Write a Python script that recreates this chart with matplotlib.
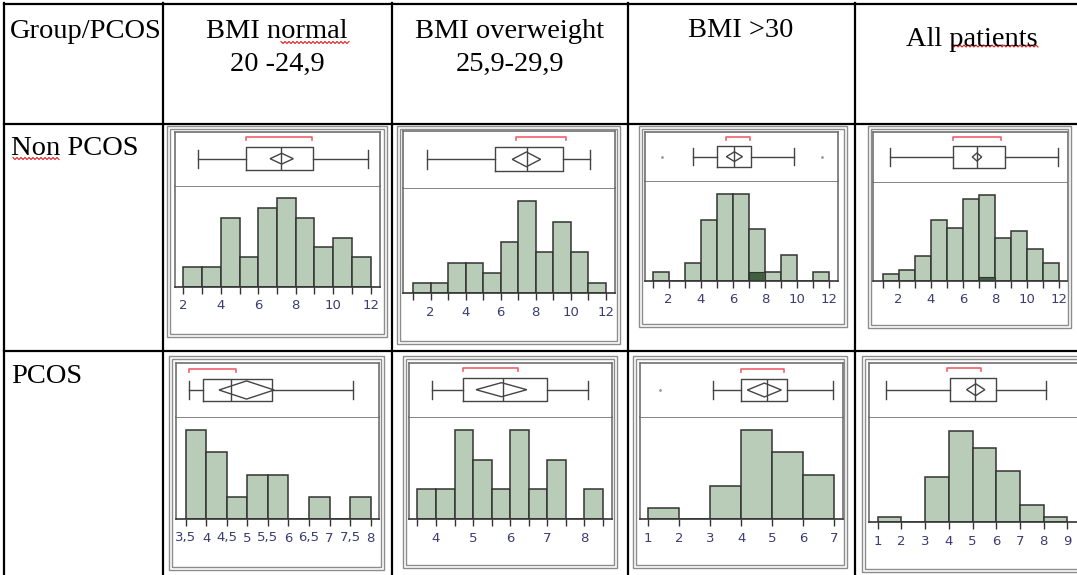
import numpy as np
import matplotlib
matplotlib.use("Agg")
import matplotlib.pyplot as plt
from matplotlib.patches import Rectangle, Polygon
from matplotlib.lines import Line2D

# ---- values ----
col_titles = [["BMI normal", "20 -24,9"], ["BMI overweight", "25,9-29,9"], ["BMI >30"], ["All patients"]]
row_titles = ["Non PCOS", "PCOS"]

# Non PCOS histograms (bin edges, counts)
np_normal_edges = [2, 3, 4, 5, 6, 7, 8, 9, 10, 11, 12]
np_normal_counts = [2, 2, 7, 3, 8, 9, 7, 4, 5, 3]
np_over_edges = [1, 2, 3, 4, 5, 6, 7, 8, 9, 10, 11, 12]
np_over_counts = [1, 1, 3, 3, 2, 5, 9, 4, 7, 4, 1]
np_obese_edges = [1, 2, 3, 4, 5, 6, 7, 8, 9, 10, 11, 12]
np_obese_counts = [1, 0, 2, 7, 10, 10, 6, 1, 3, 0, 1]
np_all_edges = [1, 2, 3, 4, 5, 6, 7, 8, 9, 10, 11, 12]
np_all_counts = [2, 3, 7, 17, 15, 23, 24, 12, 14, 9, 5]
# selected (dark) row
np_sel_bin = [7, 8]
np_sel_count = [1]

# PCOS histograms
p_normal_edges = [3.5, 4, 4.5, 5, 5.5, 6, 6.5, 7, 7.5, 8]
p_normal_counts = [4, 3, 1, 2, 2, 0, 1, 0, 1]
p_over_edges = [3.5, 4, 4.5, 5, 5.5, 6, 6.5, 7, 7.5, 8, 8.5]
p_over_counts = [1, 1, 3, 2, 1, 3, 1, 2, 0, 1]
p_obese_edges = [1, 2, 3, 4, 5, 6, 7]
p_obese_counts = [1, 0, 3, 8, 6, 4]
p_all_edges = [1, 2, 3, 4, 5, 6, 7, 8, 9]
p_all_counts = [1, 0, 8, 16, 13, 9, 3, 1]

# box plots: [whisker lo, q1, median, q3, whisker hi]
np_normal_box = [2.8, 5.35, 7.2, 8.92, 11.84]
np_over_box = [1.8, 5.65, 7.52, 9.54, 11.1]
np_obese_box = [3.54, 5.03, 6.07, 7.13, 9.84]
np_all_box = [1.45, 5.35, 6.9, 8.59, 11.94]
p_normal_box = [3.58, 3.93, 4.61, 5.59, 7.57]
p_over_box = [3.9, 4.74, 5.82, 6.99, 8.1]
p_obese_box = [3.08, 3.98, 4.84, 5.48, 6.96]
p_all_box = [1.35, 4.07, 5.1, 5.99, 8.1]

# means diamond (CI lo, CI hi)
np_normal_diam = [6.63, 7.87]
np_over_diam = [6.66, 8.28]
np_obese_diam = [5.6, 6.6]
np_all_diam = [6.58, 7.17]
p_normal_diam = [4.31, 5.65]
p_over_diam = [5.08, 6.45]
p_obese_diam = [4.2, 5.3]
p_all_diam = [4.75, 5.52]

# shortest half bracket
np_normal_short = [5.35, 8.85]
np_over_short = [6.86, 9.74]
np_obese_short = [5.56, 7.1]
np_all_short = [5.35, 8.4]
p_normal_short = [3.58, 4.73]
p_over_short = [4.74, 6.22]
p_obese_short = [3.98, 5.39]
p_all_short = [3.93, 5.34]

# outliers
np_obese_out = [1.6, 11.55]
p_obese_out = [1.38]

# tick labels
even_ticks = [2, 4, 6, 8, 10, 12]
even_labels = ["2", "4", "6", "8", "10", "12"]
p_normal_labels = ["3,5", "4", "4,5", "5", "5,5", "6", "6,5", "7", "7,5", "8"]
p_over_ticks = [4, 5, 6, 7, 8]
p_obese_labels = ["1", "2", "3", "4", "5", "6", "7"]
p_all_labels = ["1", "2", "3", "4", "5", "6", "7", "8", "9"]

# ---- style ----
W, H = 1077, 575
BAR = "#b9ccb7"
EDGE = "#333333"
SEL = "#3f6140"
BOXC = "#444444"
FRAME = "#707070"
RED = "#f0606c"
TICKC = "#3a3c72"
SERIF = "Liberation Serif"

fig = plt.figure(figsize=(W / 100, H / 100), dpi=100)


def fig_rect(l, t, r, b):
    return [l / W, 1 - b / H, (r - l) / W, (b - t) / H]


def draw_panel(outer, frame, ref, ymax, dh, edges, counts, box, diam, short, out,
               ticks, labels, sel=None):
    ol, ot, orr, ob = outer
    for d in (0, 3):
        fig.add_artist(Rectangle(((ol + d) / W, 1 - (ob - d) / H),
                                 (orr - ol - 2 * d) / W, (ob - ot - 2 * d) / H,
                                 transform=fig.transFigure, fill=False,
                                 ec="#8c8c8c", lw=1.0))
    l, t, sep, base, r = frame
    (v1, p1), (v2, p2) = ref
    k = (v2 - v1) / (p2 - p1)
    xlim = (v1 + (l - p1) * k, v1 + (r - p1) * k)

    # histogram
    axh = fig.add_axes(fig_rect(l, sep, r, base))
    axh.bar(edges[:-1], counts, width=np.diff(edges), align="edge",
            color=BAR, edgecolor=EDGE, lw=1.1)
    if sel is not None:
        axh.bar(sel[0][0], sel[1], width=sel[0][1] - sel[0][0], align="edge",
                color=SEL, edgecolor=EDGE, lw=0.8)
    axh.set_xlim(xlim)
    axh.set_ylim(0, ymax)
    axh.set_yticks([])
    axh.set_xticks(ticks)
    axh.set_xticklabels(labels)
    axh.set_xticks(edges, minor=True)
    axh.tick_params(axis="x", which="both", length=5, width=1, color="#333333",
                    direction="out")
    axh.tick_params(axis="x", labelsize=9.5, labelcolor=TICKC, pad=4)
    for sp in axh.spines.values():
        sp.set_color(FRAME)
        sp.set_linewidth(1.2)
    axh.spines["bottom"].set_color("#333333")
    axh.patch.set_alpha(0)

    # box plot
    axb = fig.add_axes(fig_rect(l, t, r, sep))
    stats = [dict(whislo=box[0], q1=box[1], med=box[2], q3=box[3],
                  whishi=box[4], fliers=out)]
    lp = dict(color=BOXC, lw=1.0)
    axb.bxp(stats, positions=[0.5], widths=0.42, orientation="horizontal",
            capwidths=0.34, boxprops=lp, whiskerprops=lp, capprops=lp,
            medianprops=lp, manage_ticks=False,
            flierprops=dict(marker=".", ms=2, mfc="#999999", mec="#999999"))
    mean = (diam[0] + diam[1]) / 2
    axb.add_patch(Polygon([(diam[0], 0.5), (mean, 0.5 + dh), (diam[1], 0.5), (mean, 0.5 - dh)],
                          closed=True, fill=False, ec=BOXC, lw=1.0))
    axb.plot([short[0], short[0], short[1], short[1]], [0.84, 0.9, 0.9, 0.84],
             color=RED, lw=1.2)
    axb.set_xlim(xlim)
    axb.set_ylim(0, 1)
    axb.set_xticks([])
    axb.set_yticks([])
    for sp in axb.spines.values():
        sp.set_color(FRAME)
        sp.set_linewidth(1.2)
    axb.spines["bottom"].set_visible(False)


# Non PCOS row
draw_panel((167, 126, 387, 337), (174.7, 131.7, 185.7, 286.7, 380),
           ((2, 183.3), (12, 370.7)), 10.3, 0.1,
           np_normal_edges, np_normal_counts, np_normal_box, np_normal_diam,
           np_normal_short, [], even_ticks, even_labels)
draw_panel((397, 126, 620, 344), (403.3, 131, 187.7, 293.3, 615),
           ((2, 430.7), (12, 605.7)), 10.3, 0.13,
           np_over_edges, np_over_counts, np_over_box, np_over_diam,
           np_over_short, [], even_ticks, even_labels)
draw_panel((639, 126, 847, 327), (645, 132.3, 181, 280.7, 837.7),
           ((2, 668.7), (12, 829)), 11.5, 0.1,
           np_obese_edges, np_obese_counts, np_obese_box, np_obese_diam,
           np_obese_short, np_obese_out, even_ticks, even_labels,
           sel=(np_sel_bin, np_sel_count))
draw_panel((868, 126, 1071, 328), (873.3, 131.7, 182.3, 281, 1068.3),
           ((2, 898.7), (12, 1059.3)), 27.7, 0.08,
           np_all_edges, np_all_counts, np_all_box, np_all_diam,
           np_all_short, [], even_ticks, even_labels,
           sel=(np_sel_bin, np_sel_count))

# PCOS row
draw_panel((169, 356, 384, 570), (176, 363.3, 416.7, 519, 379.3),
           ((3.5, 185.7), (8, 370.7)), 4.6, 0.17,
           p_normal_edges, p_normal_counts, p_normal_box, p_normal_diam,
           p_normal_short, [], p_normal_edges, p_normal_labels)
draw_panel((403, 356, 617, 568), (409, 362.7, 416.7, 519, 611.7),
           ((4, 436), (8, 584.3)), 3.45, 0.13,
           p_over_edges, p_over_counts, p_over_box, p_over_diam,
           p_over_short, [], p_over_ticks, [str(v) for v in p_over_ticks])
draw_panel((633, 356, 847, 568), (640, 363.3, 416.7, 519, 843.3),
           ((1, 648.3), (7, 834)), 9.2, 0.13,
           p_obese_edges, p_obese_counts, p_obese_box, p_obese_diam,
           p_obese_short, p_obese_out, p_obese_edges, p_obese_labels)
draw_panel((862, 356, 1086, 572), (869, 362.7, 416.7, 522.3, 1080),
           ((1, 877.7), (9, 1067.3)), 18.5, 0.11,
           p_all_edges, p_all_counts, p_all_box, p_all_diam,
           p_all_short, [], p_all_edges, p_all_labels)

# ---- table grid ----
def hline(y, x0=4, x1=W):
    fig.add_artist(Line2D([x0 / W, x1 / W], [1 - y / H, 1 - y / H], color="black", lw=1.6))


def vline(x, y0=3, y1=H):
    fig.add_artist(Line2D([x / W, x / W], [1 - y0 / H, 1 - y1 / H], color="black", lw=1.6))


for y in (3.5, 124, 351):
    hline(y)
for x in (4, 162.5, 392, 628, 855):
    vline(x)

# ---- header text ----
tkw = dict(family=SERIF, fontsize=20.5, color="black", va="baseline")
fig.text(10 / W, 1 - 38 / H, "Group/PCOS", ha="left", **tkw)
col_x = [277, 510, 741, 972]
col_y = [38, 38, 37, 46]
for cx, cy, lines in zip(col_x, col_y, col_titles):
    for i, s in enumerate(lines):
        fig.text(cx / W, 1 - (cy + 33 * i) / H, s, ha="center", **tkw)
fig.text(11 / W, 1 - 155 / H, row_titles[0], ha="left", **tkw)
fig.text(11 / W, 1 - 383 / H, row_titles[1], ha="left", **tkw)


def squiggle(x0, x1, y):
    xs = np.arange(x0, x1, 2.0)
    ys = y + np.where(np.arange(len(xs)) % 2 == 0, 0, 2.0)
    fig.add_artist(Line2D(xs / W, 1 - ys / H, color="#e01c1c", lw=0.8))


squiggle(281, 351, 41.5)
squiggle(952, 1040, 45)
squiggle(13, 60, 157.5)

fig.savefig("out.png", dpi=100)
